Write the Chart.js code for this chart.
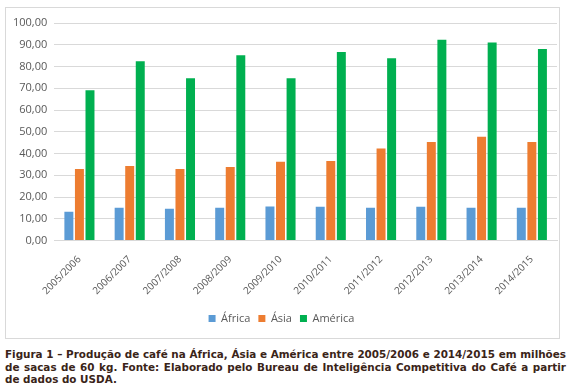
<!DOCTYPE html>
<html>
<head>
<meta charset="utf-8">
<script src="https://cdn.jsdelivr.net/npm/chart.js@4"></script>
<style>
  body { margin: 0; background: #fff; width: 570px; height: 388px; position: relative; overflow: hidden; }
  #box { position: absolute; left: 5px; top: 7px; width: 553px; height: 330px; border: 1px solid #d9d9d9; }
  #caption { position: absolute; left: 5px; top: 348px; width: 561px; font-family: "DejaVu Sans", sans-serif;
    font-weight: bold; font-size: 10.4px; line-height: 12.6px; color: #3a2418; text-align: justify; }
</style>
</head>
<body>
<div id="box"><canvas id="coffeeChart"></canvas></div>
<div id="caption">Figura 1 – Produção de café na África, Ásia e América entre 2005/2006 e 2014/2015 em milhões de sacas de 60 kg. Fonte: Elaborado pelo Bureau de Inteligência Competitiva do Café a partir de dados do USDA.</div>
<script>
const safras = ['2005/2006', '2006/2007', '2007/2008', '2008/2009', '2009/2010', '2010/2011', '2011/2012', '2012/2013', '2013/2014', '2014/2015'];
const africa = [13.3, 15.1, 14.6, 15.1, 15.7, 15.6, 15.1, 15.6, 15.1, 15.1];
const asia = [32.9, 34.3, 32.9, 33.8, 36.2, 36.6, 42.3, 45.3, 47.7, 45.3];
const america = [69.1, 82.4, 74.6, 85.2, 74.6, 86.7, 83.8, 92.3, 91.0, 88.1];

const fmt = v => v.toFixed(2).replace('.', ',');

const ctx = document.getElementById('coffeeChart').getContext('2d');
new Chart(ctx, {
    type: 'bar',
    data: {
        labels: safras,
        datasets: [
            { label: 'África', data: africa, backgroundColor: '#5b9bd5' },
            { label: 'Ásia', data: asia, backgroundColor: '#ed7d31' },
            { label: 'América', data: america, backgroundColor: '#00b050' }
        ]
    },
    options: {
        responsive: true,
        maintainAspectRatio: false,
        animation: false,
        datasets: {
            bar: { categoryPercentage: 0.63, barPercentage: 0.85 }
        },
        layout: { padding: { top: 15, right: 2, left: 0, bottom: 4 } },
        plugins: {
            legend: {
                position: 'bottom',
                labels: {
                    boxWidth: 7, boxHeight: 7, padding: 8,
                    color: '#595959',
                    font: { family: '"Open Sans", sans-serif', size: 11 }
                }
            },
            tooltip: { enabled: false }
        },
        scales: {
            x: {
                grid: { display: false },
                border: { color: '#d9d9d9' },
                afterFit: s => { s.height += 3; },
                ticks: {
                    minRotation: 45, maxRotation: 45, padding: 5,
                    color: '#595959',
                    font: { family: '"Open Sans", sans-serif', size: 10 }
                }
            },
            y: {
                min: 0, max: 100,
                border: { display: false },
                grid: { color: '#d9d9d9', drawTicks: false },
                ticks: {
                    stepSize: 10, padding: 7,
                    color: '#595959',
                    font: { family: '"Open Sans", sans-serif', size: 11 },
                    callback: v => fmt(v)
                }
            }
        }
    }
});
</script>
</body>
</html>
